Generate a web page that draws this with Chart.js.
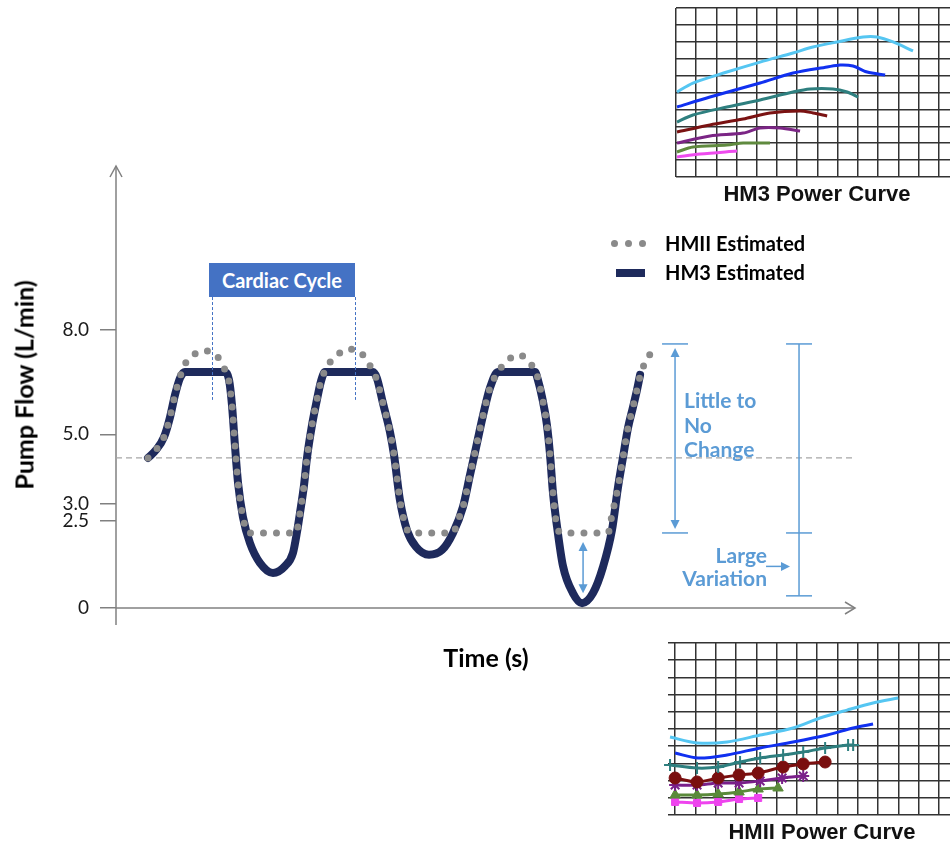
<!DOCTYPE html>
<html>
<head>
<meta charset="utf-8">
<title>HM3 vs HMII estimated pump flow</title>
<script src="https://cdn.jsdelivr.net/npm/chart.js@4.4.1/dist/chart.umd.min.js"></script>
<style>
  html, body { margin: 0; padding: 0; background: #fff; }
  #wrap { position: relative; width: 950px; height: 841px; overflow: hidden; font-family: Lato, "Open Sans", sans-serif; }
  canvas { position: absolute; }
  .txt { position: absolute; white-space: nowrap; font-weight: 700; line-height: 1; }
  .mid { transform: translate(-50%, -50%); }
  .blue { color: #5b9bd5; font-size: 21px; }
  .dot { position: absolute; width: 7px; height: 7px; border-radius: 50%; background: #8a8a8a; }
  .pc { font-family: "Liberation Sans", Arial, sans-serif; font-size: 22px; color: #111; }
</style>
</head>
<body>
<div id="wrap">
  <canvas id="main" width="950" height="841" style="left:0;top:0"></canvas>
  <canvas id="hm3pc" width="282" height="185" style="left:668px;top:0"></canvas>
  <canvas id="hm2pc" width="290" height="188" style="left:660px;top:635px"></canvas>

  <div class="txt mid" style="left:24px;top:385px;font-size:25px;transform:translate(-50%,-50%) rotate(-90deg)">Pump Flow (L/min)</div>
  <div class="txt mid" style="left:486px;top:657px;font-size:25px">Time (s)</div>

  <div class="txt" style="left:209px;top:263px;width:146px;height:34px;background:#4472c4;color:#fff;font-size:20px;display:flex;align-items:center;justify-content:center">Cardiac Cycle</div>

  <div class="dot" style="left:611px;top:240px"></div>
  <div class="dot" style="left:625px;top:240px"></div>
  <div class="dot" style="left:639px;top:240px"></div>
  <div class="txt" style="left:665px;top:233px;font-size:20px">HMII Estimated</div>
  <div style="position:absolute;left:616px;top:269px;width:29px;height:8px;background:#1e2a5c"></div>
  <div class="txt" style="left:665px;top:262px;font-size:20px">HM3 Estimated</div>

  <div class="txt blue" style="left:684px;top:388px;line-height:24.5px">Little to<br>No<br>Change</div>
  <div class="txt blue" style="right:183px;top:543px;line-height:23px;text-align:right">Large<br>Variation</div>

  <div class="txt pc mid" style="left:817px;top:194px">HM3 Power Curve</div>
  <div class="txt pc mid" style="left:822px;top:832px">HMII Power Curve</div>
</div>
<script>
// main trace: time (s) vs pump flow (L/min)
const hm3Time = [0.164, 0.205, 0.246, 0.277, 0.302, 0.328, 0.353, 0.558, 0.579, 0.594, 0.609, 0.625, 0.650, 0.686, 0.737, 0.804, 0.866, 0.906, 0.927, 0.942, 0.963, 0.978, 1.004, 1.029, 1.050, 1.070,
  1.316, 1.336, 1.367, 1.403, 1.424, 1.454, 1.490, 1.536, 1.603, 1.670, 1.726, 1.777, 1.813, 1.849, 1.880, 1.915, 1.956,
  2.146, 2.161, 2.182, 2.207, 2.223, 2.238, 2.259, 2.289, 2.340, 2.387, 2.443, 2.494, 2.540, 2.571, 2.597, 2.622, 2.648, 2.668, 2.684];
const hm3Flow = [4.32, 4.55, 4.92, 5.50, 6.13, 6.62, 6.79, 6.79, 6.56, 5.84, 4.69, 3.60, 2.62, 1.87, 1.30, 1.01, 1.21, 1.58, 2.19, 2.73, 3.54, 4.32, 5.27, 5.99, 6.53, 6.79,
  6.79, 6.62, 5.90, 5.07, 4.40, 3.11, 2.24, 1.76, 1.53, 1.67, 2.16, 2.91, 3.83, 4.75, 5.55, 6.33, 6.79,
  6.79, 6.56, 6.07, 5.27, 4.40, 3.31, 2.33, 1.21, 0.43, 0.14, 0.43, 1.18, 2.24, 3.48, 4.35, 5.18, 5.79, 6.27, 6.71];

const hm2Time = [0.164, 0.205, 0.246, 0.277, 0.302, 0.323, 0.348, 0.389, 0.451, 0.517, 0.553, 0.579, 0.594, 0.609, 0.625, 0.650, 0.676, 0.922,
  0.942, 0.963, 0.978, 1.004, 1.029, 1.050, 1.080, 1.127, 1.188, 1.255, 1.296, 1.332, 1.367, 1.403, 1.424, 1.454, 1.480, 1.506, 1.726,
  1.752, 1.777, 1.813, 1.849, 1.880, 1.915, 1.956, 2.002, 2.064, 2.120, 2.156, 2.182, 2.207, 2.223, 2.238, 2.259, 2.284, 2.520,
  2.540, 2.571, 2.597, 2.622, 2.648, 2.668, 2.689, 2.710, 2.735];
const hm2Flow = [4.32, 4.55, 4.92, 5.50, 6.13, 6.56, 6.96, 7.25, 7.40, 7.25, 6.91, 6.50, 5.84, 4.69, 3.60, 2.62, 2.16, 2.16,
  2.73, 3.54, 4.32, 5.27, 5.99, 6.53, 6.94, 7.25, 7.45, 7.34, 7.02, 6.62, 5.90, 5.07, 4.40, 3.11, 2.42, 2.16, 2.16,
  2.53, 2.91, 3.83, 4.75, 5.55, 6.33, 6.79, 7.11, 7.28, 7.05, 6.71, 6.07, 5.27, 4.40, 3.31, 2.33, 2.16, 2.16,
  2.68, 3.48, 4.35, 5.18, 5.79, 6.27, 6.79, 7.05, 7.31];

const baselineFlow = 4.32;
const yTicks = [0, 2.5, 3.0, 5.0, 8.0];
const cycleMarks = [0.492, 1.224];
const cycleSpan = [8.95, 5.99];
const littleX = 2.863, largeX = 3.498, gapX = 2.392;
const bracketFlow = [7.6, 2.16, 0.35];
const troughFlow = [2.16, 0.14];

// power curve insets, in grid cells
const hm3Curves = [
  { color: '#55c6f2', x: [0.05, 0.84, 2.52, 4.16, 5.79, 6.78, 7.97, 9.26, 9.95, 10.74, 11.73], y: [5.03, 5.56, 6.21, 6.80, 7.34, 7.69, 7.99, 8.28, 8.28, 7.99, 7.46] },
  { color: '#1030f0', x: [0.05, 1.68, 4.16, 5.79, 7.48, 8.12, 8.76, 9.46, 10.35], y: [4.14, 4.73, 5.56, 6.15, 6.51, 6.63, 6.57, 6.21, 6.04] },
  { color: '#2e7f7f', x: [0.05, 0.84, 2.52, 4.16, 5.79, 6.63, 7.77, 8.47, 9.01], y: [3.25, 3.67, 4.14, 4.56, 5.03, 5.21, 5.21, 5.03, 4.73] },
  { color: '#7a1212', x: [0.05, 1.68, 3.32, 4.65, 6.14, 6.78, 7.48], y: [2.66, 3.08, 3.43, 3.79, 3.91, 3.79, 3.61] },
  { color: '#7b2585', x: [0.05, 1.68, 3.32, 4.16, 5.15, 6.14], y: [2.01, 2.43, 2.60, 2.90, 2.90, 2.72] },
  { color: '#5f8a3e', x: [0.05, 0.84, 2.52, 3.32, 4.65], y: [1.48, 1.78, 1.89, 2.01, 2.01] },
  { color: '#ee4bee', x: [0.05, 1.19, 3.02], y: [1.18, 1.36, 1.54] }
];
const hm2Curves = [
  { color: '#55c6f2', marker: false, x: [-0.25, 1.08, 2.56, 4.19, 5.81, 7.14, 8.47, 9.75, 10.99], y: [4.53, 4.19, 4.24, 4.65, 5.06, 5.64, 6.10, 6.51, 6.80] },
  { color: '#1030f0', marker: false, x: [0, 1.13, 2.56, 4.19, 5.81, 7.49, 8.77, 9.75], y: [3.60, 3.31, 3.49, 3.90, 4.24, 4.65, 5.06, 5.29] },
  { color: '#2e7f7f', marker: 'cross', x: [-0.25, 1.08, 2.12, 3.20, 4.19, 5.32, 6.31, 7.39, 8.52, 8.77], y: [2.91, 2.73, 2.79, 3.08, 3.31, 3.49, 3.66, 3.90, 4.07, 4.07] },
  { color: '#7a0f0f', marker: 'circle', x: [0, 1.08, 2.12, 3.15, 4.09, 5.32, 6.31, 7.39], y: [2.15, 1.92, 2.15, 2.33, 2.44, 2.79, 2.97, 3.08] },
  { color: '#7a1f8a', marker: 'star', x: [0, 1.08, 2.12, 3.15, 4.19, 5.27, 6.31], y: [1.74, 1.74, 1.86, 1.86, 1.98, 2.15, 2.27] },
  { color: '#5a8a3a', marker: 'triangle', x: [0, 1.08, 2.12, 3.15, 4.09, 5.07], y: [1.16, 1.16, 1.22, 1.34, 1.51, 1.57] },
  { color: '#ee44ee', marker: 'rect', x: [0, 1.08, 2.12, 3.15, 4.09], y: [0.76, 0.70, 0.76, 0.93, 0.99] }
];

const pts = (xs, ys) => xs.map((x, i) => ({ x: x, y: ys[i] }));

function seg(ctx, x1, y1, x2, y2) {
  ctx.beginPath(); ctx.moveTo(x1, y1); ctx.lineTo(x2, y2); ctx.stroke();
}
function head(ctx, x, y, dx, dy) {
  const len = 9, half = 4.5;
  ctx.beginPath();
  ctx.moveTo(x, y);
  ctx.lineTo(x - dx * len - dy * half, y - dy * len + dx * half);
  ctx.lineTo(x - dx * len + dy * half, y - dy * len - dx * half);
  ctx.closePath(); ctx.fill();
}

const axesPlugin = {
  id: 'axesLines',
  beforeDatasetsDraw(chart) {
    const { ctx, chartArea: a, scales: { y } } = chart;
    const y0 = y.getPixelForValue(0);
    ctx.save();
    ctx.strokeStyle = '#808080';
    ctx.lineWidth = 1.5;
    seg(ctx, a.left, a.top + 1, a.left, y0 + 17);
    seg(ctx, a.left, y0, a.right - 3, y0);
    ctx.beginPath();
    ctx.moveTo(a.left - 6, a.top + 12); ctx.lineTo(a.left, a.top + 1); ctx.lineTo(a.left + 6, a.top + 12);
    ctx.moveTo(a.right - 13, y0 - 6); ctx.lineTo(a.right - 3, y0); ctx.lineTo(a.right - 13, y0 + 6);
    ctx.stroke();
    ctx.restore();
  },
  afterDatasetsDraw(chart) {
    const { ctx, scales: { x, y } } = chart;
    ctx.save();
    // cardiac cycle markers
    ctx.strokeStyle = '#4472c4';
    ctx.lineWidth = 1;
    ctx.setLineDash([3, 2]);
    cycleMarks.forEach(t => {
      const px = Math.round(x.getPixelForValue(t)) + 0.5;
      seg(ctx, px, y.getPixelForValue(cycleSpan[0]), px, y.getPixelForValue(cycleSpan[1]));
    });
    ctx.setLineDash([]);

    ctx.strokeStyle = '#5b9bd5';
    ctx.fillStyle = '#5b9bd5';
    ctx.lineWidth = 1.5;
    const [yTop, yMid, yLow] = bracketFlow.map(v => y.getPixelForValue(v));
    // little to no change
    const xl = x.getPixelForValue(littleX);
    seg(ctx, xl - 13, yTop, xl + 13, yTop);
    seg(ctx, xl - 13, yMid, xl + 13, yMid);
    seg(ctx, xl, yTop + 10, xl, yMid - 10);
    head(ctx, xl, yTop + 4, 0, -1);
    head(ctx, xl, yMid - 4, 0, 1);
    // large variation
    const xr = x.getPixelForValue(largeX);
    seg(ctx, xr, yTop, xr, yLow);
    [yTop, yMid, yLow].forEach(v => seg(ctx, xr - 13, v, xr + 13, v));
    const ya = (yMid + yLow) / 2 + 2;
    seg(ctx, xr - 33, ya, xr - 15, ya);
    head(ctx, xr - 9, ya, 1, 0);
    // trough gap
    const xg = x.getPixelForValue(gapX);
    const g1 = y.getPixelForValue(troughFlow[0]) + 9, g2 = y.getPixelForValue(troughFlow[1]) - 10;
    seg(ctx, xg, g1 + 6, xg, g2 - 6);
    head(ctx, xg, g1, 0, -1);
    head(ctx, xg, g2, 0, 1);
    ctx.restore();
  }
};

new Chart(document.getElementById('main'), {
  type: 'line',
  data: {
    datasets: [
      {
        label: 'HMII Estimated',
        data: pts(hm2Time, hm2Flow),
        borderColor: '#8a8a8a',
        borderWidth: 7,
        borderDash: [0, 13],
        borderCapStyle: 'round',
        cubicInterpolationMode: 'monotone',
        pointRadius: 0,
        order: 0
      },
      {
        label: 'HM3 Estimated',
        data: pts(hm3Time, hm3Flow),
        borderColor: '#1e2a5c',
        borderWidth: 8,
        borderCapStyle: 'round',
        borderJoinStyle: 'round',
        cubicInterpolationMode: 'monotone',
        pointRadius: 0,
        order: 1
      },
      {
        label: 'baseline',
        data: [{ x: 0, y: baselineFlow }, { x: 3.785, y: baselineFlow }],
        borderColor: '#a6a6a6',
        borderWidth: 1.2,
        borderDash: [6, 4],
        pointRadius: 0,
        order: 2
      }
    ]
  },
  options: {
    responsive: false,
    animation: false,
    layout: { padding: { top: 165, right: 92, bottom: 233, left: 0 }, autoPadding: false },
    plugins: { legend: { display: false }, tooltip: { enabled: false } },
    scales: {
      x: { type: 'linear', min: 0, max: 3.8, display: false },
      y: {
        type: 'linear',
        min: 0,
        max: 12.75,
        afterBuildTicks: s => { s.ticks = yTicks.map(v => ({ value: v })); },
        afterFit: s => { s.width = 116; },
        border: { display: false },
        grid: { drawOnChartArea: false, drawTicks: true, tickLength: 16, color: '#808080', lineWidth: 1.5 },
        ticks: {
          padding: 11,
          color: '#1a1a1a',
          font: { family: 'Lato', size: 19 },
          callback: v => (v === 0 ? '0' : v.toFixed(1))
        }
      }
    }
  },
  plugins: [axesPlugin]
});

function powerChart(id, curves, xMin, xMax, pad) {
  return new Chart(document.getElementById(id), {
    type: 'line',
    data: {
      datasets: curves.map(c => ({
        data: pts(c.x, c.y),
        borderColor: c.color,
        backgroundColor: c.color,
        borderWidth: 3,
        tension: 0.3,
        pointStyle: c.marker || 'circle',
        pointRadius: c.marker ? (c.marker === 'rect' ? 5 : 6) : 0,
        pointBorderWidth: c.marker === 'cross' || c.marker === 'star' ? 2 : 1,
        clip: false
      }))
    },
    options: {
      responsive: false,
      animation: false,
      layout: { padding: pad, autoPadding: false },
      plugins: { legend: { display: false }, tooltip: { enabled: false } },
      scales: {
        x: {
          type: 'linear', min: xMin, max: xMax,
          afterBuildTicks: s => { const t = []; for (let i = 0; i <= Math.floor(xMax); i++) t.push({ value: i }); s.ticks = t; },
          border: { display: false },
          grid: { color: '#333', lineWidth: 1.5, drawTicks: false },
          ticks: { display: false }
        },
        y: {
          type: 'linear', min: 0, max: 10,
          afterBuildTicks: s => { const t = []; for (let i = 0; i <= 10; i++) t.push({ value: i }); s.ticks = t; },
          border: { display: false },
          grid: { color: '#333', lineWidth: 1.5, drawTicks: false },
          ticks: { display: false }
        }
      }
    }
  });
}

powerChart('hm3pc', hm3Curves, 0, 13.56, { left: 8, top: 8, right: 0, bottom: 8 });
powerChart('hm2pc', hm2Curves, -0.35, 13.54, { left: 8, top: 8, right: 0, bottom: 8 });
</script>
</body>
</html>
